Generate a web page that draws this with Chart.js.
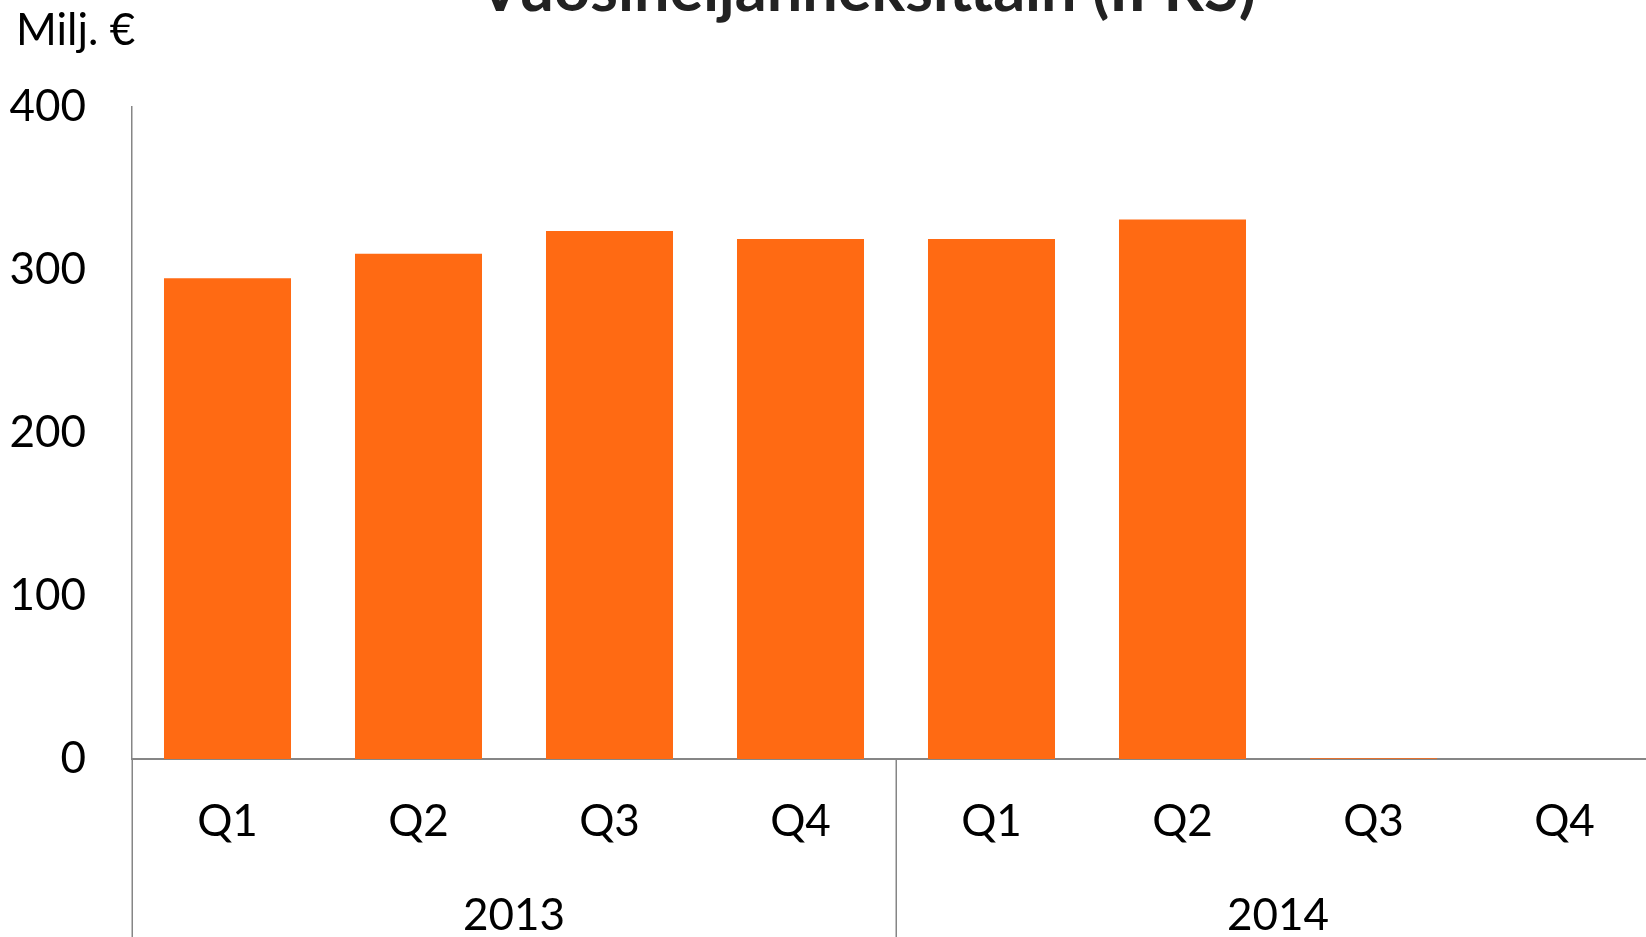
<!DOCTYPE html>
<html>
<head>
<meta charset="utf-8">
<script src="https://cdn.jsdelivr.net/npm/chart.js@4.4.1/dist/chart.umd.min.js"></script>
<style>
  html, body { margin: 0; padding: 0; background: #fff; overflow: hidden; }
  #wrap { position: relative; width: 1660px; height: 937px; }
</style>
</head>
<body>
<div id="wrap"><canvas id="c" width="1660" height="937"></canvas></div>
<script>
const titleText = 'Vuosineljänneksittäin (IFRS)';
const unitText = 'Milj. €';
const quarters = ['Q1', 'Q2', 'Q3', 'Q4', 'Q1', 'Q2', 'Q3', 'Q4'];
const years = ['2013', '2014'];
const revenue = [295, 310, 324, 319, 319, 331, 0.5, null];
const yTicks = [0, 100, 200, 300, 400];

const FONT = 'Lato, "Open Sans", sans-serif';
const BAR = '#FF6A13';
const LINE = '#868686';

const extras = {
  id: 'extras',
  afterDraw(chart) {
    const ctx = chart.ctx;
    const x = chart.scales.x;
    const area = chart.chartArea;
    const step = x.getPixelForTick(1) - x.getPixelForTick(0);
    ctx.save();
    ctx.strokeStyle = LINE;
    ctx.lineWidth = 1.5;
    [0, 4, 8].forEach(i => {
      const px = Math.round(x.getPixelForTick(0) - step / 2 + i * step) + 0.25;
      ctx.beginPath();
      ctx.moveTo(px, area.bottom);
      ctx.lineTo(px, chart.height);
      ctx.stroke();
    });
    ctx.fillStyle = '#000';
    ctx.textAlign = 'left';
    ctx.textBaseline = 'alphabetic';
    ctx.font = '44px ' + FONT;
    ctx.fillText(unitText, 16, 45);
    ctx.fillStyle = '#222';
    ctx.textAlign = 'center';
    ctx.font = 'bold 63px ' + FONT;
    ctx.fillText(titleText, 867, 11);
    ctx.restore();
  }
};

new Chart(document.getElementById('c'), {
  type: 'bar',
  data: {
    labels: quarters,
    datasets: [{
      data: revenue,
      backgroundColor: BAR,
      borderWidth: 0,
      barPercentage: 0.665,
      categoryPercentage: 1.0,
      xAxisID: 'x',
      yAxisID: 'y'
    }]
  },
  options: {
    responsive: false,
    animation: false,
    events: [],
    layout: { padding: { top: 107, left: 0, right: 0, bottom: 0 } },
    plugins: { legend: { display: false }, tooltip: { enabled: false }, title: { display: false } },
    scales: {
      y: {
        min: 0, max: 400,
        afterFit(s) { s.width = 132; },
        afterBuildTicks(s) { s.ticks = yTicks.map(v => ({ value: v })); },
        grid: { display: false, drawTicks: false },
        border: { display: true, color: LINE, width: 1.5 },
        ticks: { padding: 46, color: '#000', font: { family: FONT, size: 44 } }
      },
      x: {
        position: 'bottom',
        afterFit(s) { s.height = 100; },
        grid: { display: false, drawTicks: false },
        border: { display: true, color: LINE, width: 2 },
        ticks: { padding: 36, color: '#000', maxRotation: 0, autoSkip: false, font: { family: FONT, size: 44 } }
      },
      x2: {
        type: 'category',
        labels: years,
        position: 'bottom',
        offset: true,
        afterFit(s) { s.height = 78; },
        grid: { display: false, drawTicks: false },
        border: { display: false },
        ticks: { padding: 30, color: '#000', maxRotation: 0, autoSkip: false, font: { family: FONT, size: 44 } }
      }
    }
  },
  plugins: [extras]
});
</script>
</body>
</html>
